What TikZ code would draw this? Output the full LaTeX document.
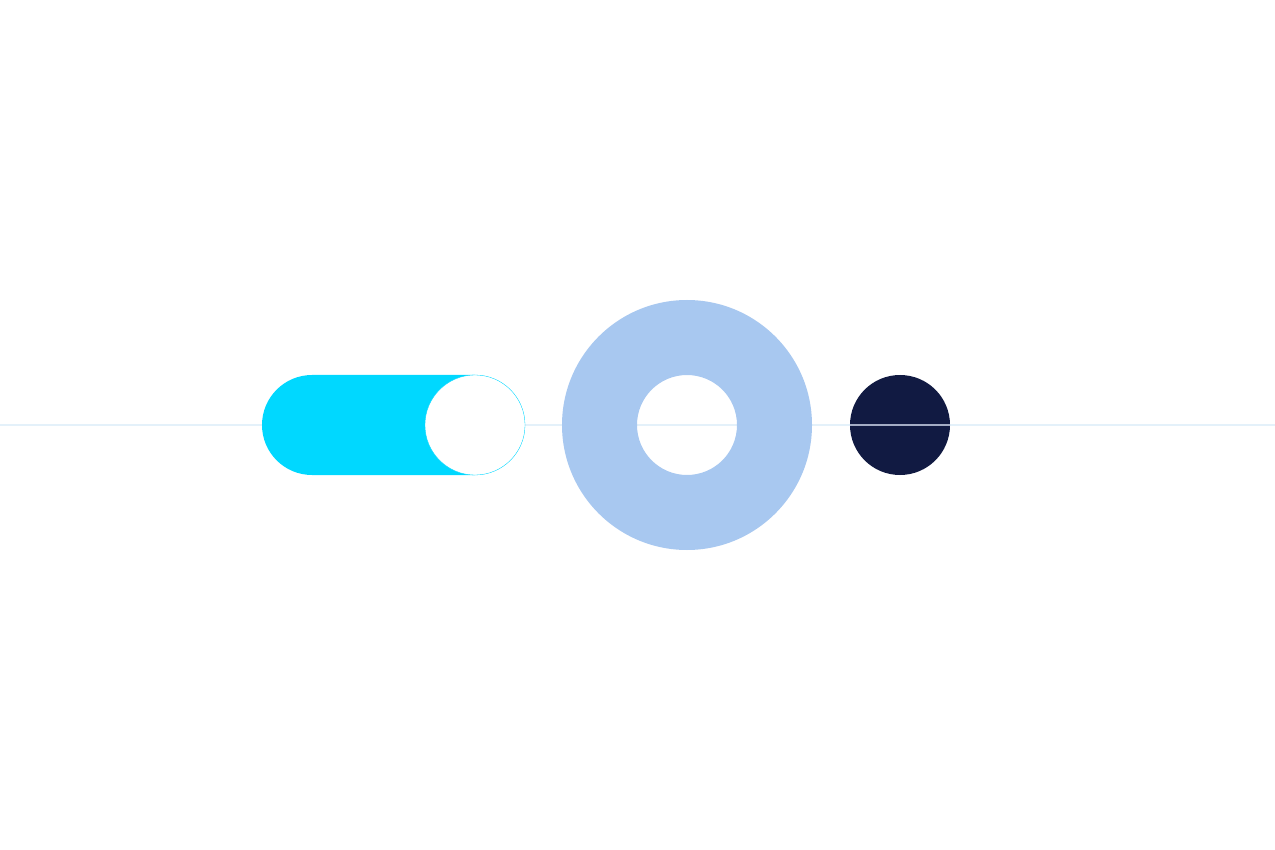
\documentclass[tikz,border=0pt]{standalone}
\begin{document}
\begin{tikzpicture}[x=1pt,y=-1pt]
\definecolor{axis}{HTML}{E4F1FA}
\definecolor{cyanc}{HTML}{00D8FF}
\definecolor{ringc}{HTML}{A8C8F0}
\definecolor{navy}{HTML}{111A42}
\definecolor{axisdark}{HTML}{A4ACC4}
\useasboundingbox[fill=white] (0,0) rectangle (1275,850);
\coordinate (L) at (0,425);
\coordinate (R) at (1275,425);
\draw[axis, line width=1.5pt] (L) -- (R);
\fill[cyanc, rounded corners=50pt] (262,375) rectangle (525,475);
\node[circle, fill=white, draw=cyanc, line width=0.3pt, minimum size=100pt, inner sep=0pt] (knob) at (475,425) {};
\fill[ringc, even odd rule] (687,425) circle[radius=125] (687,425) circle[radius=50];
\node[circle, fill=navy, minimum size=100pt, inner sep=0pt] (dot) at (900,425) {};
\draw[axisdark, line width=1.5pt] (dot.west) -- (dot.east);
\end{tikzpicture}
\end{document}
